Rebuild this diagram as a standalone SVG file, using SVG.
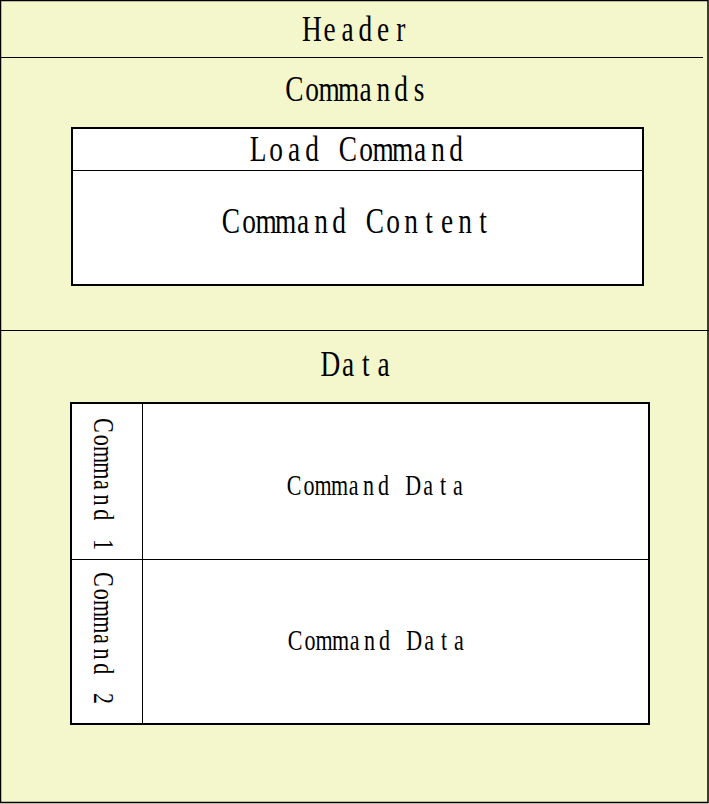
<svg xmlns="http://www.w3.org/2000/svg" width="709" height="804" viewBox="0 0 709 804">
<style>
.t{font-family:"Liberation Serif","DejaVu Serif",serif;fill:#000;text-anchor:middle;}
.big{font-size:36px;}
.small{font-size:29px;}
.box{fill:#fff;stroke:#000;stroke-width:2;}
.thin{stroke:#000;stroke-width:1;fill:none;}
</style>
<rect x="0" y="0" width="709" height="804" fill="#F4F7CB"/>
<g id="frame">
<rect x="0.5" y="0.5" width="707.5" height="802" fill="none" stroke="#000" stroke-width="1.5"/>
<line x1="0" y1="57.5" x2="703" y2="57.5" class="thin"/>
<line x1="0" y1="330.5" x2="709" y2="330.5" class="thin"/>
</g>
<g id="header">
<text class="t big" transform="scale(0.76,1)" y="41" x="410.39 433.82 457.24 480.66 504.08 527.50">Header</text>
</g>
<g id="commands">
<text class="t big" transform="scale(0.76,1)" y="101.5" x="387.37 410.79 433.21 458.63 481.05 504.47 527.89 551.32">Commands</text>
</g>
<g id="load-command">
<rect class="box" x="72" y="128" width="571" height="157"/>
<line x1="72" y1="170.5" x2="643" y2="170.5" class="thin"/>
<text class="t big" transform="scale(0.76,1)" y="161" x="339.47 363.16 386.84 410.53 434.21 457.89 481.58 504.26 529.95 552.63 576.32 600.00">Load Command</text>
<text class="t big" transform="scale(0.76,1)" y="233" x="303.95 327.63 350.32 376.00 398.68 422.37 446.05 469.74 493.42 517.11 540.79 564.47 588.16 611.84 635.53">Command Content</text>
</g>
<g id="data">
<text class="t big" transform="scale(0.76,1)" y="376" x="434.61 458.03 481.45 504.87">Data</text>
</g>
<g id="data-box">
<rect class="box" x="71" y="403" width="578" height="321"/>
<line x1="142.5" y1="403" x2="142.5" y2="724" class="thin"/>
<line x1="71" y1="559.5" x2="649" y2="559.5" class="thin"/>
</g>
<g id="command1">
<text class="t small" transform="translate(94,485) rotate(90) scale(0.76,1)" y="0" x="-78.42 -58.82 -40.21 -18.61 0 19.61 39.21 58.82 78.42">Command 1</text>
<text class="t small" transform="scale(0.76,1)" y="495" x="386.91 406.51 425.12 446.72 465.33 484.93 504.54 524.14 543.75 563.36 582.96 602.57">Command Data</text>
</g>
<g id="command2">
<text class="t small" transform="translate(94,639) rotate(90) scale(0.76,1)" y="0" x="-78.42 -58.82 -40.21 -18.61 0 19.61 39.21 58.82 78.42">Command 2</text>
<text class="t small" transform="scale(0.76,1)" y="650" x="388.22 407.83 426.44 448.04 466.65 486.25 505.86 525.46 545.07 564.67 584.28 603.88">Command Data</text>
</g>
<g id="connectors"></g>
</svg>
